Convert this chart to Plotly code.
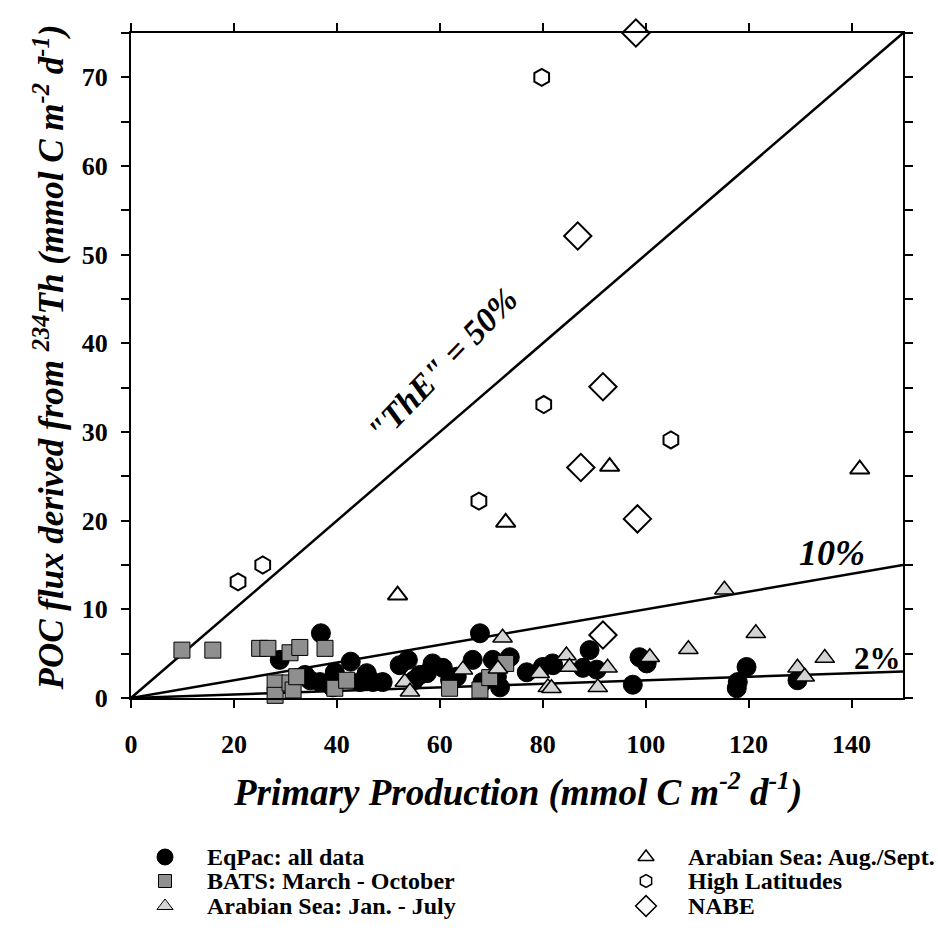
import plotly.graph_objects as go

# ---------------- data ----------------
eqpac_x = [28.9, 36.9, 42.7, 33.8, 36.7, 39.6, 39.2, 45.8, 47.0, 44.5, 48.9, 52.2, 53.8, 56.1,
           67.8, 58.6, 60.6, 57.5, 66.4, 70.3, 73.6, 71.1, 71.7, 76.9, 80.0, 81.9, 63.3, 68.3,
           89.1, 82.0, 87.8, 90.5, 98.8, 100.2, 97.5, 119.6, 117.9, 117.7, 129.5, 34.8, 62.0, 55.0]
eqpac_y = [4.3, 7.3, 4.1, 2.6, 1.8, 2.9, 1.2, 2.8, 1.8, 1.8, 1.8, 3.7, 4.3, 2.6,
           7.3, 3.9, 3.4, 2.8, 4.3, 4.3, 4.6, 2.4, 1.2, 2.9, 3.5, 3.9, 2.4, 1.8,
           5.4, 3.7, 3.4, 3.2, 4.6, 3.9, 1.5, 3.5, 1.8, 1.1, 2.0, 2.0, 2.0, 2.0]

bats_x = [9.9, 15.9, 25.0, 26.6, 30.9, 32.8, 37.7, 28.0, 28.0, 30.9, 31.5, 39.6, 41.9,
          61.9, 67.8, 69.7, 72.8, 32.2]
bats_y = [5.4, 5.4, 5.6, 5.6, 5.1, 5.7, 5.6, 1.7, 0.3, 1.7, 0.9, 1.1, 2.0,
          1.1, 0.9, 2.3, 3.9, 2.4]

arjan_x = [53.2, 54.2, 72.2, 64.5, 71.3, 79.4, 81.0, 84.6, 85.2, 92.6, 90.7, 100.8, 81.7,
           108.3, 121.4, 134.8, 129.5, 130.9, 115.3]
arjan_y = [1.8, 0.7, 6.8, 3.2, 3.3, 2.8, 1.2, 4.8, 3.5, 3.4, 1.2, 4.6, 1.1,
           5.5, 7.3, 4.5, 3.4, 2.4, 12.2]

araug_x = [51.8, 72.8, 93.0, 141.6]
araug_y = [11.6, 19.8, 26.1, 25.8]

hilat_x = [20.8, 25.6, 67.6, 80.2, 79.8, 104.9]
hilat_y = [13.1, 15.0, 22.2, 33.1, 70.0, 29.1]

nabe_x = [98.1, 86.8, 91.7, 87.4, 98.4, 91.7]
nabe_y = [75.0, 52.1, 35.1, 26.0, 20.2, 7.1]

ratio_values = [0.5, 0.1, 0.02]
ratio_labels = ['"ThE" = 50%', '10%', '2%']
x_extent = [0, 150]

series_names = ["EqPac: all data", "BATS: March - October", "Arabian Sea: Jan. - July",
                "Arabian Sea: Aug./Sept.", "High Latitudes", "NABE"]

# ---------------- styling ----------------
FONT = "Liberation Serif"
W, H = 938, 951
L, R, T, B = 131, 903, 33, 698   # plot area in pixels

styles = [
    dict(symbol="circle", color="black", size=19, line=dict(color="black", width=1)),
    dict(symbol="square", color="#8f8f8f", size=16, line=dict(color="black", width=1)),
    dict(symbol="triangle-up", color="#d4d4d4", size=17, line=dict(color="black", width=1.5)),
    dict(symbol="triangle-up", color="white", size=17, line=dict(color="black", width=2)),
    dict(symbol="hexagon", color="white", size=17, line=dict(color="black", width=2)),
    dict(symbol="diamond", color="white", size=21, line=dict(color="black", width=2)),
]
legend_sizes = [16, 13, 14, 14, 13, 16]
data_sets = [(eqpac_x, eqpac_y), (bats_x, bats_y), (arjan_x, arjan_y),
             (araug_x, araug_y), (hilat_x, hilat_y), (nabe_x, nabe_y)]

fig = go.Figure()

# reference lines
for r in ratio_values:
    fig.add_trace(go.Scatter(x=x_extent, y=[v * r for v in x_extent], mode="lines",
                             line=dict(color="black", width=2.5), showlegend=False,
                             hoverinfo="skip"))

order = [4, 5, 3, 0, 1, 2]
for i in order:
    xs, ys = data_sets[i]
    fig.add_trace(go.Scatter(x=xs, y=ys, mode="markers", name=series_names[i],
                             marker=styles[i], showlegend=False, cliponaxis=False))

# ---------------- legend (manual, below chart) ----------------
leg_cols_px = [165, 646]
leg_rows_px = [857, 881, 906]
leg_text_dx = 40
for k, name in enumerate(series_names):
    col, row = divmod(k, 3)
    st = dict(styles[k])
    st["size"] = legend_sizes[k]
    st["line"] = dict(color="black", width=1.5 if k >= 3 else 1)
    fig.add_trace(go.Scatter(x=[leg_cols_px[col]], y=[leg_rows_px[row]], mode="markers",
                             marker=st, xaxis="x2", yaxis="y2", showlegend=False,
                             hoverinfo="skip", cliponaxis=False))
    fig.add_annotation(x=leg_cols_px[col] + leg_text_dx, y=leg_rows_px[row], xref="x2", yref="y2",
                       text="<b>" + name + "</b>", showarrow=False, xanchor="left", yanchor="middle",
                       font=dict(family=FONT, size=24, color="black"))

# line labels
fig.add_annotation(x=60.6, y=37.6, text="<b><i>" + ratio_labels[0] + "</i></b>", showarrow=False,
                   textangle=-46, font=dict(family=FONT, size=34, color="black"))
fig.add_annotation(x=136.3, y=16.4, text="<b><i>" + ratio_labels[1] + "</i></b>", showarrow=False,
                   font=dict(family=FONT, size=36, color="black"))
fig.add_annotation(x=145.0, y=4.5, text="<b>" + ratio_labels[2] + "</b>", showarrow=False,
                   font=dict(family=FONT, size=31, color="black"))

# axis titles
fig.add_annotation(x=(L + R) / 2 / W, y=1 - 816 / H, xref="paper", yref="paper",
                   text="<b><i>Primary Production (mmol C m<sup>-2</sup> d<sup>-1</sup>)</i></b>",
                   showarrow=False, font=dict(family=FONT, size=37, color="black"))
fig.add_annotation(x=24 / W, y=1 - 358 / H, xref="paper", yref="paper", textangle=-90,
                   text="<b><i>POC flux derived from <sup>234</sup>Th (mmol C m<sup>-2</sup> d<sup>-1</sup>)</i></b>",
                   showarrow=False, font=dict(family=FONT, size=35, color="black"))

axis_common = dict(showgrid=False, zeroline=False, showline=True, linecolor="black", linewidth=2,
                   mirror="allticks", ticks="outside", ticklen=8, tickwidth=1.5, tickcolor="black",
                   tickfont=dict(family=FONT, size=26, color="black"))

fig.update_layout(
    width=W, height=H, margin=dict(l=0, r=0, t=0, b=0, autoexpand=False),
    paper_bgcolor="white", plot_bgcolor="white", showlegend=False,
    xaxis=dict(domain=[L / W, R / W], range=x_extent, dtick=20, tick0=0,
               tickprefix="<b>", ticksuffix="</b>", ticklabelstandoff=14, **axis_common),
    yaxis=dict(domain=[1 - B / H, 1 - T / H], range=[0, 75], dtick=10, tick0=0,
               tickprefix="<b>", ticksuffix="</b>", ticklabelstandoff=8,
               minor=dict(dtick=5, ticks="outside", ticklen=8, tickwidth=1.5, tickcolor="black"),
               **axis_common),
    xaxis2=dict(domain=[0, 1], range=[0, W], visible=False, anchor="y2"),
    yaxis2=dict(domain=[0, 1 - 828 / H], range=[H, 828], visible=False, anchor="x2"),
)

fig.write_html("out.html")
